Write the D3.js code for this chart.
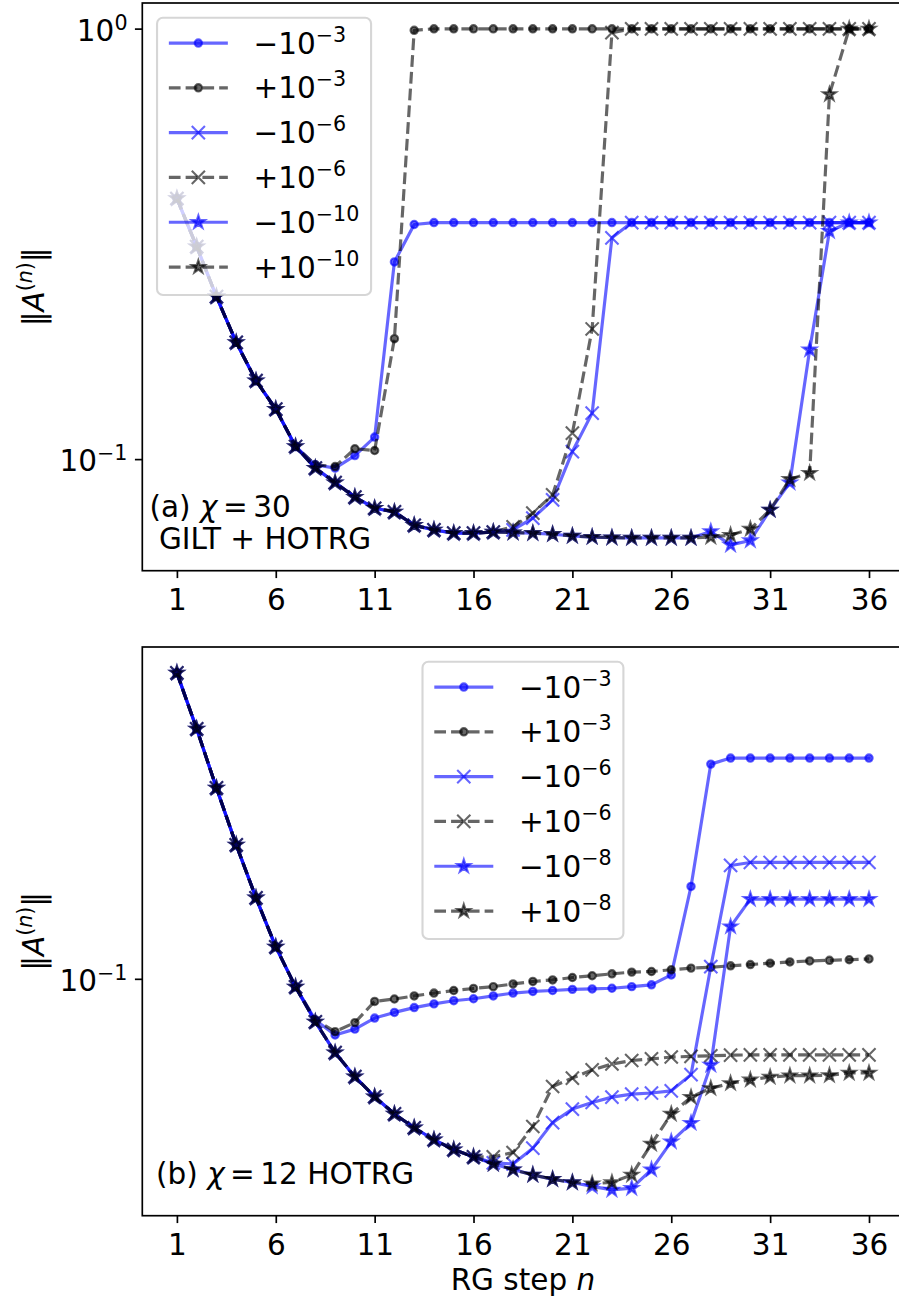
<!DOCTYPE html>
<html>
<head>
<meta charset="utf-8">
<script src="https://cdn.jsdelivr.net/npm/d3@7"></script>
<style>
  body { margin: 0; background: #fff; }
  svg { display: block; }
  text { font-family: "DejaVu Sans", sans-serif; }
</style>
</head>
<body>
<svg id="chart" width="899" height="1300"></svg>
<script>
// ---- data -------------------------------------------------------------
const steps = d3.range(1, 37);
const xTicks = [1, 6, 11, 16, 21, 26, 31, 36];

// (a) chi = 30, GILT + HOTRG
const topMinus3 = [0.4030, 0.3117, 0.2385, 0.1867, 0.1521, 0.1307, 0.1070, 0.0970, 0.0953, 0.1019, 0.1125, 0.2871,
  0.3507, 0.3544, 0.3544, 0.3544, 0.3544, 0.3544, 0.3544, 0.3544, 0.3544, 0.3544, 0.3544, 0.3544,
  0.3544, 0.3544, 0.3544, 0.3544, 0.3544, 0.3544, 0.3544, 0.3544, 0.3544, 0.3544, 0.3544, 0.3544];
const topPlus3 = [0.4030, 0.3117, 0.2385, 0.1867, 0.1521, 0.1307, 0.1070, 0.0970, 0.0961, 0.1057, 0.1047, 0.1904,
  0.9909, 0.999, 0.999, 0.999, 0.999, 0.999, 0.999, 0.999, 0.999, 0.999, 0.999, 0.999,
  0.999, 0.999, 0.999, 0.999, 0.999, 0.999, 0.999, 0.999, 0.999, 0.999, 0.999, 0.999];
const topMinus6 = [0.4030, 0.3117, 0.2385, 0.1867, 0.1521, 0.1307, 0.1070, 0.0953, 0.0882, 0.0816, 0.0769, 0.0754,
  0.0702, 0.0685, 0.0673, 0.0673, 0.0677, 0.0685, 0.0729, 0.0804, 0.1041, 0.1279, 0.3266, 0.3544,
  0.3544, 0.3544, 0.3544, 0.3544, 0.3544, 0.3544, 0.3544, 0.3544, 0.3544, 0.3544, 0.3544, 0.3544];
const topPlus6 = [0.4030, 0.3117, 0.2385, 0.1867, 0.1521, 0.1307, 0.1070, 0.0953, 0.0882, 0.0816, 0.0769, 0.0754,
  0.0702, 0.0685, 0.0673, 0.0673, 0.0677, 0.0696, 0.0749, 0.0826, 0.1149, 0.2006, 0.9788, 0.999,
  0.999, 0.999, 0.999, 0.999, 0.999, 0.999, 0.999, 0.999, 0.999, 0.999, 0.999, 0.999];
const topMinus10 = [0.4030, 0.3117, 0.2385, 0.1867, 0.1521, 0.1307, 0.1070, 0.0953, 0.0882, 0.0816, 0.0769, 0.0754,
  0.0702, 0.0685, 0.0673, 0.0673, 0.0677, 0.0675, 0.0673, 0.0669, 0.0663, 0.0659, 0.0657, 0.0656,
  0.0656, 0.0656, 0.0656, 0.0679, 0.0632, 0.0647, 0.0762, 0.0882, 0.1795, 0.3383, 0.3544, 0.3544];
const topPlus10 = [0.4030, 0.3117, 0.2385, 0.1867, 0.1521, 0.1307, 0.1070, 0.0953, 0.0882, 0.0816, 0.0769, 0.0754,
  0.0702, 0.0685, 0.0673, 0.0673, 0.0677, 0.0675, 0.0673, 0.0669, 0.0663, 0.0659, 0.0657, 0.0656,
  0.0656, 0.0656, 0.0656, 0.0659, 0.0666, 0.0688, 0.0762, 0.0898, 0.0928, 0.7035, 0.999, 0.999];

// (b) chi = 12, HOTRG
const botMinus3 = [0.4036, 0.3127, 0.2388, 0.1842, 0.1447, 0.1157, 0.0964, 0.0829, 0.0774, 0.0795, 0.0836, 0.0858,
  0.0877, 0.0892, 0.0905, 0.0913, 0.0925, 0.0937, 0.0944, 0.0948, 0.0953, 0.0955, 0.0958, 0.0965,
  0.0973, 0.1018, 0.1524, 0.2662, 0.2736, 0.2736, 0.2736, 0.2736, 0.2736, 0.2736, 0.2736, 0.2736];
const botPlus3 = [0.4036, 0.3127, 0.2388, 0.1842, 0.1447, 0.1157, 0.0964, 0.0829, 0.0786, 0.0819, 0.0902, 0.0912,
  0.0925, 0.0937, 0.0948, 0.0957, 0.0965, 0.0977, 0.0988, 0.0995, 0.1006, 0.1014, 0.1023, 0.1031,
  0.1034, 0.1042, 0.1050, 0.1054, 0.1061, 0.1067, 0.1074, 0.1080, 0.1085, 0.1088, 0.1091, 0.1095];
const botMinus6 = [0.4036, 0.3127, 0.2388, 0.1842, 0.1447, 0.1157, 0.0964, 0.0822, 0.0714, 0.0640, 0.0584, 0.0540,
  0.0507, 0.0480, 0.0459, 0.0444, 0.0432, 0.0430, 0.0462, 0.0519, 0.0552, 0.0569, 0.0583, 0.0591,
  0.0594, 0.0600, 0.0646, 0.1057, 0.1677, 0.1700, 0.1700, 0.1700, 0.1700, 0.1700, 0.1700, 0.1700];
const botPlus6 = [0.4036, 0.3127, 0.2388, 0.1842, 0.1447, 0.1157, 0.0964, 0.0822, 0.0714, 0.0640, 0.0584, 0.0540,
  0.0507, 0.0480, 0.0459, 0.0444, 0.0444, 0.0453, 0.0510, 0.0612, 0.0636, 0.0660, 0.0678, 0.0689,
  0.0694, 0.0700, 0.0702, 0.0704, 0.0706, 0.0707, 0.0707, 0.0707, 0.0707, 0.0707, 0.0707, 0.0707];
const botMinus8 = [0.4036, 0.3127, 0.2388, 0.1842, 0.1447, 0.1157, 0.0964, 0.0822, 0.0714, 0.0640, 0.0584, 0.0540,
  0.0507, 0.0480, 0.0459, 0.0444, 0.0430, 0.0419, 0.0409, 0.0401, 0.0395, 0.0388, 0.0382, 0.0385,
  0.0419, 0.0476, 0.0518, 0.0675, 0.1269, 0.1438, 0.1438, 0.1438, 0.1438, 0.1438, 0.1438, 0.1438];
const botPlus8 = [0.4036, 0.3127, 0.2388, 0.1842, 0.1447, 0.1157, 0.0964, 0.0822, 0.0714, 0.0640, 0.0584, 0.0540,
  0.0507, 0.0480, 0.0459, 0.0444, 0.0430, 0.0419, 0.0409, 0.0401, 0.0395, 0.0393, 0.0395, 0.0409,
  0.0471, 0.0540, 0.0583, 0.0607, 0.0621, 0.0631, 0.0639, 0.0643, 0.0643, 0.0644, 0.0651, 0.0651];

const topLegendExp = ["−3", "−3", "−6", "−6", "−10", "−10"];
const botLegendExp = ["−3", "−3", "−6", "−6", "−8", "−8"];
const legendSigns = ["−", "+", "−", "+", "−", "+"];
const topYTicks = [1, 0.1];
const botYTicks = [0.1];

// ---- styling ----------------------------------------------------------
const PT = 2.11;          // pixels per point
const FS = 29.5;          // base font size
const SUP = FS * 0.7;     // superscript font size
const styles = [
  { color: "blue",  dashed: false, marker: "dot"  },
  { color: "black", dashed: true,  marker: "dot"  },
  { color: "blue",  dashed: false, marker: "x"    },
  { color: "black", dashed: true,  marker: "x"    },
  { color: "blue",  dashed: false, marker: "star" },
  { color: "black", dashed: true,  marker: "star" }
];

const svg = d3.select("#chart");

function markerPath(kind) {
  const ms = 6 * PT;
  if (kind === "dot") {
    const r = 0.29 * ms;
    return d3.symbol(d3.symbolCircle, Math.PI * r * r)();
  }
  if (kind === "star") {
    const R = 0.54 * ms;
    return d3.symbol(d3.symbolStar, R * R / 0.8908130915292852)();
  }
  const h = 0.52 * ms;
  return `M${-h},${-h}L${h},${h}M${-h},${h}L${h},${-h}`;
}

function paddedLogDomain(arrays) {
  const all = arrays.flat();
  const [lo, hi] = d3.extent(all);
  const a = Math.log10(lo), b = Math.log10(hi), p = (b - a) * 0.05;
  return [Math.pow(10, a - p), Math.pow(10, b + p)];
}

function addPowerLabel(sel, base, exp, supShift) {
  sel.append("tspan").text(base);
  sel.append("tspan").attr("font-size", SUP).attr("dy", -supShift).text(exp);
}

// "(x) χ = NN" with math-style spacing around the equals sign
function addChiLabel(sel, prefix, value, suffix) {
  sel.append("tspan").text(prefix);
  sel.append("tspan").attr("font-style", "italic").text("χ");
  sel.append("tspan").attr("dx", 5.5).text("=");
  sel.append("tspan").attr("dx", 5.5).text(value);
  if (suffix) sel.append("tspan").text(suffix);
}

function drawPanel(id, box, data, yTicks, signs, exps, legendLoc, showXLabel) {
  const x = d3.scaleLinear().domain([1 - 0.05 * 35, 36 + 0.05 * 35]).range([box.left, box.right]);
  const y = d3.scaleLog().domain(paddedLogDomain(data)).range([box.bottom, box.top]);

  const g = svg.append("g").attr("id", id);
  const clipId = id + "-clip";
  g.append("clipPath").attr("id", clipId).append("rect")
    .attr("x", box.left).attr("y", box.top)
    .attr("width", box.right - box.left).attr("height", box.bottom - box.top);

  const plot = g.append("g").attr("clip-path", `url(#${clipId})`);
  const line = d3.line().x((d, i) => x(steps[i])).y(d => y(d));

  data.forEach((vals, k) => {
    const st = styles[k];
    const s = plot.append("g");
    s.append("path").datum(vals)
      .attr("d", line)
      .attr("fill", "none")
      .attr("stroke", st.color).attr("stroke-opacity", 0.6)
      .attr("stroke-width", 1.5 * PT)
      .attr("stroke-linejoin", "round")
      .attr("stroke-linecap", st.dashed ? "butt" : "square")
      .attr("stroke-dasharray", st.dashed ? `${3.7 * 1.5 * PT},${1.6 * 1.5 * PT}` : null);
    s.selectAll("path.mk").data(vals).join("path")
      .attr("class", "mk")
      .attr("transform", (d, i) => `translate(${x(steps[i])},${y(d)})`)
      .attr("d", markerPath(st.marker))
      .attr("fill", st.marker === "x" ? "none" : st.color)
      .attr("fill-opacity", 0.6)
      .attr("stroke", st.color).attr("stroke-opacity", 0.6)
      .attr("stroke-width", PT);
  });

  // x axis
  const xa = g.append("g").attr("transform", `translate(0,${box.bottom})`)
    .call(d3.axisBottom(x).tickValues(xTicks).tickSize(3.5 * PT).tickPadding(11).tickFormat(d3.format("d")));
  xa.select(".domain").remove();
  xa.selectAll("line").attr("stroke", "black").attr("stroke-width", 0.8 * PT);
  xa.selectAll("text").attr("font-size", FS).attr("font-family", "DejaVu Sans").attr("fill", "black");

  // y axis
  const ya = g.append("g").attr("transform", `translate(${box.left},0)`)
    .call(d3.axisLeft(y).tickValues(yTicks).tickSize(3.5 * PT).tickFormat(() => ""));
  ya.select(".domain").remove();
  ya.selectAll("line").attr("stroke", "black").attr("stroke-width", 0.8 * PT);
  yTicks.forEach(v => {
    const t = g.append("text")
      .attr("x", box.left - 7 * PT).attr("y", y(v) + 12)
      .attr("text-anchor", "end").attr("font-size", FS);
    const e = Math.round(Math.log10(v));
    addPowerLabel(t, "10", e < 0 ? "−" + (-e) : String(e), 11);
  });

  // spines
  g.append("rect")
    .attr("x", box.left).attr("y", box.top)
    .attr("width", box.right - box.left).attr("height", box.bottom - box.top)
    .attr("fill", "none").attr("stroke", "black").attr("stroke-width", 0.8 * PT);

  // y label
  const cy = (box.top + box.bottom) / 2;
  const yl = g.append("text")
    .attr("transform", `translate(44,${cy}) rotate(-90)`)
    .attr("text-anchor", "middle").attr("font-size", FS);
  yl.append("tspan").text("‖");
  yl.append("tspan").attr("font-style", "italic").text("A");
  const sup = yl.append("tspan").attr("font-size", SUP).attr("dy", -12);
  sup.append("tspan").text("(");
  sup.append("tspan").attr("font-style", "italic").text("n");
  sup.append("tspan").text(")");
  yl.append("tspan").attr("dy", 12).text("‖");

  if (showXLabel) {
    const xl = g.append("text")
      .attr("x", (box.left + box.right) / 2).attr("y", 1290)
      .attr("text-anchor", "middle").attr("font-size", FS);
    xl.append("tspan").text("RG step ");
    xl.append("tspan").attr("font-style", "italic").text("n");
  }

  // legend
  const pad = 0.4 * FS, hl = 2 * FS, htp = 0.8 * FS, rowH = 44.8;
  const lg = g.append("g");
  const frame = lg.append("rect");
  const items = lg.append("g");
  const texts = [];
  signs.forEach((sg, k) => {
    const st = styles[k];
    const ry = 25.3 + k * rowH;
    const it = items.append("g").attr("transform", `translate(0,${ry})`);
    it.append("line")
      .attr("x1", pad).attr("x2", pad + hl).attr("y1", 0).attr("y2", 0)
      .attr("stroke", st.color).attr("stroke-opacity", 0.6)
      .attr("stroke-width", 1.5 * PT)
      .attr("stroke-dasharray", st.dashed ? `${3.7 * 1.5 * PT},${1.6 * 1.5 * PT}` : null);
    it.append("path")
      .attr("transform", `translate(${pad + hl / 2},0)`)
      .attr("d", markerPath(st.marker))
      .attr("fill", st.marker === "x" ? "none" : st.color)
      .attr("fill-opacity", 0.6)
      .attr("stroke", st.color).attr("stroke-opacity", 0.6)
      .attr("stroke-width", PT);
    const t = it.append("text")
      .attr("x", pad + hl + htp + 2).attr("y", 10.5).attr("font-size", FS);
    addPowerLabel(t, sg + "10", exps[k], 12);
    texts.push(t);
  });
  const maxW = d3.max(texts, t => t.node().getComputedTextLength());
  const w = pad + hl + htp + 2 + maxW + pad;
  const h = 25.3 + 5 * rowH + 28;
  frame.attr("width", w).attr("height", h).attr("rx", 0.2 * FS)
    .attr("fill", "white").attr("fill-opacity", 0.8)
    .attr("stroke", "#cccccc").attr("stroke-opacity", 0.8).attr("stroke-width", PT);
  const lx = legendLoc === "upper left"
    ? box.left + 0.5 * FS
    : (box.left + box.right) / 2 - w / 2;
  lg.attr("transform", `translate(${lx},${box.top + 0.5 * FS})`);

  return g;
}

const topBox = { left: 142.3, right: 903.6, top: 3, bottom: 570.7 };
const botBox = { left: 142.3, right: 903.6, top: 647, bottom: 1215.7 };

const gA = drawPanel("panel-a", topBox,
  [topMinus3, topPlus3, topMinus6, topPlus6, topMinus10, topPlus10],
  topYTicks, legendSigns, topLegendExp, "upper left", false);
const gB = drawPanel("panel-b", botBox,
  [botMinus3, botPlus3, botMinus6, botPlus6, botMinus8, botPlus8],
  botYTicks, legendSigns, botLegendExp, "upper center", true);

// panel annotations
addChiLabel(gA.append("text").attr("x", 149.5).attr("y", 516.7).attr("font-size", FS), "(a) ", "30", null);
gA.append("text").attr("x", 159).attr("y", 549.3).attr("font-size", FS).text("GILT + HOTRG");
addChiLabel(gB.append("text").attr("x", 156).attr("y", 1184).attr("font-size", FS), "(b) ", "12", " HOTRG");
</script>
</body>
</html>
